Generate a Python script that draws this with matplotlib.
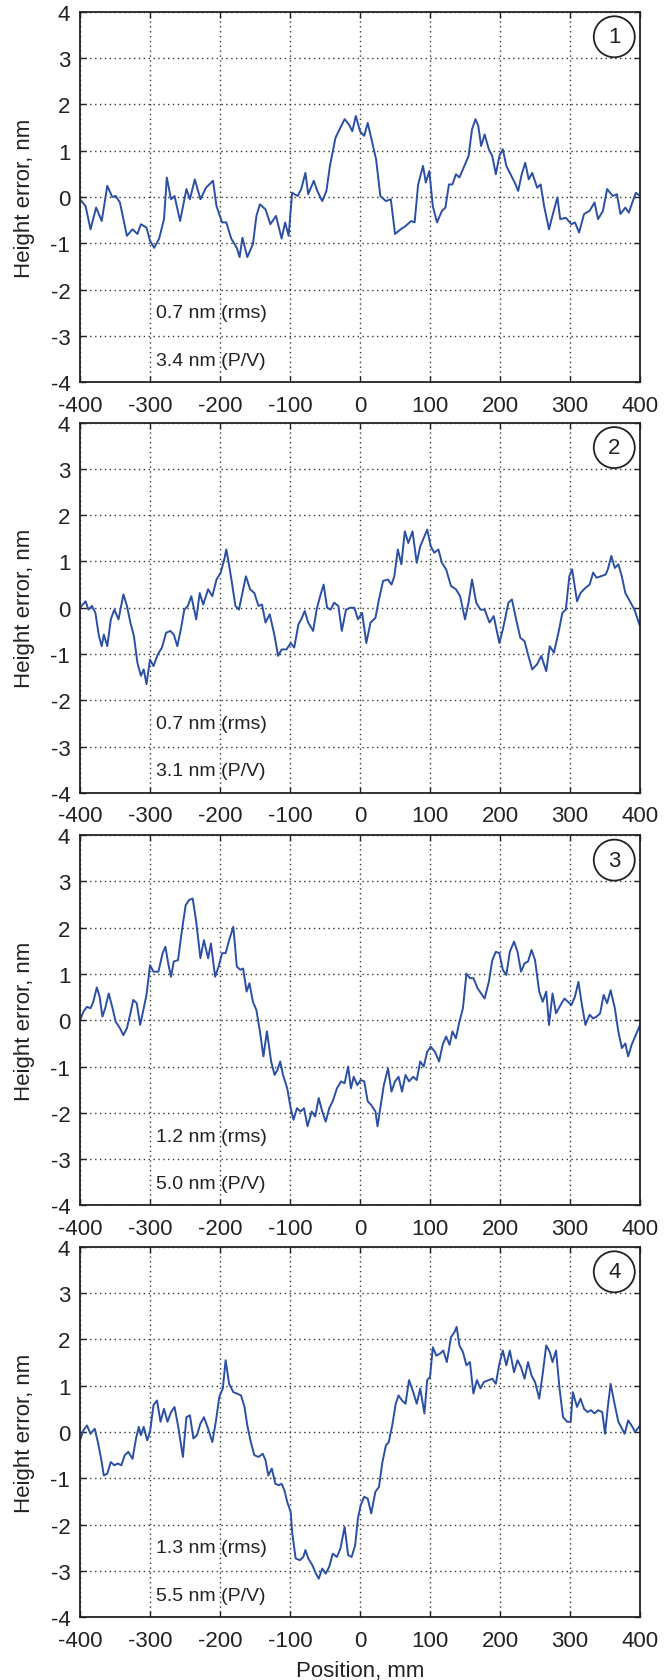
import matplotlib.pyplot as plt

plt.rcParams['font.family'] = ['Liberation Sans', 'DejaVu Sans']
plt.rcParams['axes.unicode_minus'] = False

# panel 1
x1 = [-400, -392, -385, -377, -369, -361, -354, -349, -343, -333,
      -325, -318, -313, -305, -300, -294, -287, -280, -276, -270,
      -265, -257, -248, -243, -236, -228, -220, -210, -205, -197,
      -191, -184, -176, -172, -168, -161, -153, -148, -143, -135,
      -128, -120, -112, -107, -102, -97, -89, -84, -78, -74,
      -66, -61, -54, -48, -43, -35, -27, -22, -16, -11,
      -6, 0, 6, 11, 17, 23, 29, 37, 44, 50,
      58, 65, 73, 78, 83, 90, 94, 99, 104, 110,
      117, 122, 127, 132, 137, 142, 150, 155, 160, 165,
      169, 173, 178, 184, 189, 194, 199, 204, 209, 214,
      221, 226, 231, 236, 241, 246, 253, 258, 263, 270,
      276, 282, 286, 294, 302, 307, 313, 320, 328, 335,
      340, 347, 353, 361, 367, 372, 379, 384, 389, 394,
      400]
y1 = [-0.05, -0.2, -0.7, -0.23, -0.52, 0.24, 0, 0.02, -0.12, -0.84,
      -0.7, -0.8, -0.59, -0.66, -0.95, -1.1, -0.9, -0.48, 0.42, -0.05,
      0.02, -0.52, 0.17, -0.05, 0.38, -0.05, 0.2, 0.35, -0.2, -0.55,
      -0.55, -0.9, -1.1, -1.3, -0.88, -1.3, -1.02, -0.41, -0.16, -0.27,
      -0.59, -0.41, -0.9, -0.55, -0.84, 0.09, 0.02, 0.17, 0.52, 0.06,
      0.35, 0.13, -0.09, 0.13, 0.67, 1.28, 1.53, 1.68, 1.57, 1.42,
      1.75, 1.42, 1.32, 1.6, 1.21, 0.81, 0.02, -0.09, -0.05, -0.8,
      -0.7, -0.63, -0.52, -0.55, 0.27, 0.67, 0.31, 0.56, -0.2, -0.55,
      -0.3, -0.23, 0.27, 0.27, 0.49, 0.42, 0.7, 0.88, 1.46, 1.68,
      1.53, 1.1, 1.35, 1.03, 0.88, 0.49, 0.88, 1.03, 0.67, 0.52,
      0.31, 0.13, 0.49, 0.74, 0.38, 0.52, 0.2, 0.27, -0.2, -0.7,
      -0.34, -0.01, -0.48, -0.45, -0.59, -0.55, -0.77, -0.37, -0.3, -0.12,
      -0.48, -0.3, 0.17, 0.02, 0.06, -0.37, -0.23, -0.34, -0.12, 0.09,
      0.02]

# panel 2
x2 = [-400, -396, -392, -388, -383, -378, -373, -369, -366, -361,
      -356, -351, -345, -338, -333, -328, -323, -318, -313, -309,
      -305, -300, -295, -289, -283, -277, -271, -266, -261, -256,
      -251, -246, -241, -234, -229, -224, -217, -211, -205, -199,
      -194, -191, -188, -183, -178, -173, -169, -163, -157, -151,
      -145, -140, -135, -129, -122, -117, -112, -105, -99, -94,
      -88, -84, -79, -74, -67, -62, -57, -52, -47, -42,
      -37, -31, -26, -20, -14, -8, -3, 3, 9, 15,
      22, 27, 33, 40, 45, 49, 54, 59, 64, 69,
      75, 81, 86, 90, 96, 101, 106, 112, 117, 123,
      130, 137, 143, 150, 155, 160, 166, 172, 178, 185,
      191, 199, 204, 212, 217, 222, 229, 235, 240, 246,
      253, 259, 266, 271, 277, 284, 289, 294, 299, 303,
      310, 315, 322, 328, 333, 338, 344, 351, 354, 359,
      364, 369, 374, 379, 384, 392, 400]
y2 = [0, 0.07, 0.14, -0.04, 0.04, -0.11, -0.61, -0.83, -0.58, -0.83,
      -0.25, -0.04, -0.25, 0.29, 0.04, -0.32, -0.61, -1.19, -1.47, -1.33,
      -1.65, -1.12, -1.26, -1.01, -0.86, -0.54, -0.5, -0.58, -0.83, -0.47,
      -0.04, 0.04, 0.25, -0.25, 0.32, 0.07, 0.4, 0.25, 0.61, 0.76,
      1.04, 1.26, 1.01, 0.54, 0.04, -0.04, 0.25, 0.68, 0.4, 0.32,
      0.04, 0.07, -0.32, -0.14, -0.61, -1.04, -0.9, -0.9, -0.76, -0.86,
      -0.36, -0.25, -0.07, -0.32, -0.5, -0.04, 0.25, 0.5, 0, -0.04,
      0.11, 0.04, -0.5, -0.04, 0, 0, -0.25, -0.11, -0.76, -0.32,
      -0.22, 0.18, 0.58, 0.61, 0.5, 0.68, 1.26, 0.94, 1.65, 1.4,
      1.65, 0.97, 1.33, 1.47, 1.69, 1.33, 1.19, 1.26, 0.97, 0.83,
      0.47, 0.4, 0.25, -0.25, 0.11, 0.61, 0.11, -0.04, -0.04, -0.32,
      -0.18, -0.76, -0.47, 0.11, 0.18, -0.18, -0.65, -0.72, -1.01, -1.33,
      -1.22, -1.04, -1.37, -0.83, -0.97, -0.5, -0.11, -0.04, 0.68, 0.83,
      0.14, 0.32, 0.43, 0.5, 0.76, 0.65, 0.68, 0.72, 0.83, 1.12,
      0.86, 0.94, 0.68, 0.32, 0.18, -0.04, -0.4]

# panel 3
x3 = [-400, -395, -390, -385, -381, -376, -372, -368, -364, -359,
      -354, -349, -343, -338, -333, -328, -324, -319, -314, -310,
      -305, -300, -295, -288, -282, -278, -274, -270, -266, -260,
      -254, -249, -244, -239, -234, -228, -223, -217, -213, -207,
      -202, -197, -192, -187, -181, -176, -171, -167, -162, -158,
      -153, -148, -143, -138, -133, -127, -122, -118, -114, -110,
      -104, -99, -95, -90, -85, -80, -75, -69, -64, -59,
      -54, -49, -44, -39, -33, -27, -22, -17, -13, -9,
      -4, 1, 6, 11, 16, 22, 25, 29, 34, 40,
      45, 50, 55, 60, 65, 70, 76, 81, 86, 91,
      96, 101, 107, 113, 118, 123, 128, 132, 137, 142,
      147, 152, 157, 162, 168, 173, 178, 184, 189, 194,
      199, 204, 209, 214, 220, 225, 230, 235, 240, 245,
      250, 256, 261, 266, 270, 275, 280, 285, 292, 297,
      302, 307, 312, 317, 322, 328, 333, 338, 343, 348,
      353, 358, 364, 369, 374, 379, 383, 388, 393, 400]
y3 = [0, 0.19, 0.29, 0.26, 0.4, 0.71, 0.51, 0.08, 0.26, 0.58,
      0.29, -0.03, -0.17, -0.32, -0.17, 0.15, 0.44, 0.37, -0.1, 0.19,
      0.55, 1.19, 1.05, 1.05, 1.45, 1.59, 1.23, 0.94, 1.27, 1.3,
      1.99, 2.49, 2.6, 2.63, 2.13, 1.34, 1.73, 1.34, 1.66, 0.94,
      1.16, 1.45, 1.45, 1.73, 2.02, 1.16, 1.09, 1.12, 0.62, 0.8,
      0.4, 0.22, -0.24, -0.78, -0.24, -0.89, -1.18, -1.07, -0.89, -1.18,
      -1.47, -1.9, -2.15, -1.9, -1.97, -1.9, -2.29, -1.97, -2.08, -1.68,
      -1.97, -2.19, -1.9, -1.75, -1.47, -1.32, -1.36, -1.0, -1.47, -1.22,
      -1.4, -1.29, -1.32, -1.75, -1.83, -1.97, -2.29, -1.9, -1.4, -1.04,
      -1.54, -1.32, -1.22, -1.54, -1.18, -1.32, -1.22, -1.29, -0.89, -1.0,
      -0.68, -0.57, -0.68, -0.89, -0.53, -0.35, -0.53, -0.24, -0.39, -0.03,
      0.26, 1.01, 0.91, 0.91, 0.69, 0.58, 0.47, 0.83, 1.3, 1.48,
      1.45, 1.09, 0.98, 1.48, 1.7, 1.48, 1.05, 1.23, 1.27, 1.52,
      1.3, 0.62, 0.4, 0.62, -0.1, 0.58, 0.15, 0.29, 0.47, 0.4,
      0.33, 0.51, 0.83, 0.33, -0.1, 0.12, 0.04, 0.08, 0.15, 0.55,
      0.37, 0.65, 0.26, -0.24, -0.6, -0.5, -0.78, -0.53, -0.35, -0.1]

# panel 4
x4 = [-400, -395, -390, -385, -379, -374, -369, -366, -361, -356,
      -351, -346, -341, -336, -331, -325, -320, -316, -313, -309,
      -304, -300, -295, -290, -285, -280, -275, -270, -265, -260,
      -253, -248, -243, -238, -233, -228, -223, -217, -211, -206,
      -201, -196, -192, -187, -181, -176, -170, -165, -161, -156,
      -151, -145, -139, -135, -131, -126, -121, -116, -112, -108,
      -104, -99, -97, -92, -86, -81, -78, -74, -68, -63,
      -59, -54, -49, -44, -39, -33, -28, -22, -17, -12,
      -7, -3, 1, 6, 11, 16, 22, 27, 32, 37,
      41, 46, 51, 55, 60, 65, 70, 76, 81, 86,
      92, 96, 100, 104, 109, 114, 119, 124, 130, 135,
      138, 142, 147, 152, 157, 162, 167, 172, 177, 184,
      189, 194, 199, 204, 209, 214, 220, 225, 230, 235,
      240, 245, 250, 256, 261, 266, 271, 275, 280, 285,
      290, 296, 301, 304, 310, 315, 320, 325, 330, 335,
      340, 346, 350, 354, 358, 364, 369, 373, 378, 383,
      388, 393, 400]
y4 = [-0.18, 0.04, 0.14, -0.04, 0.07, -0.25, -0.65, -0.94, -0.9, -0.65,
      -0.72, -0.68, -0.72, -0.5, -0.43, -0.58, -0.14, 0.11, -0.07, 0.11,
      -0.18, 0, 0.58, 0.68, 0.22, 0.5, 0.22, 0.43, 0.54, 0.14,
      -0.54, 0.32, 0.36, -0.14, -0.07, 0.18, 0.32, 0.07, -0.22, 0.22,
      0.76, 0.94, 1.55, 1.04, 0.86, 0.83, 0.79, 0.54, 0.14, -0.22,
      -0.5, -0.54, -0.47, -0.61, -0.94, -0.79, -1.12, -1.15, -1.12, -1.26,
      -1.51, -1.73, -2.16, -2.73, -2.77, -2.7, -2.55, -2.73, -2.88, -3.06,
      -3.17, -2.95, -3.06, -2.91, -2.63, -2.7, -2.52, -2.05, -2.66, -2.7,
      -2.45, -1.87, -1.58, -1.4, -1.44, -1.76, -1.29, -1.19, -0.65, -0.29,
      -0.22, 0.14, 0.61, 0.79, 0.68, 0.61, 1.12, 0.86, 0.61, 0.94,
      0.4, 1.12, 1.19, 1.83, 1.65, 1.69, 1.76, 1.51, 2.05, 2.16,
      2.27, 1.87, 1.73, 1.44, 1.51, 0.83, 1.12, 0.94, 1.08, 1.12,
      1.15, 1.04, 1.47, 1.76, 1.44, 1.76, 1.29, 1.55, 1.4, 1.15,
      1.51, 1.22, 1.08, 0.72, 1.26, 1.87, 1.73, 1.51, 1.76, 0.94,
      0.32, 0.22, 0.22, 0.86, 0.54, 0.72, 0.5, 0.43, 0.47, 0.4,
      0.47, 0.43, -0.04, 0.54, 1.04, 0.58, 0.22, 0.11, -0.04, 0.25,
      0.14, 0, 0.14]

rms_labels = ["0.7 nm (rms)", "0.7 nm (rms)", "1.2 nm (rms)", "1.3 nm (rms)"]
pv_labels = ["3.4 nm (P/V)", "3.1 nm (P/V)", "5.0 nm (P/V)", "5.5 nm (P/V)"]
panel_ids = ["1", "2", "3", "4"]
xticks = [-400, -300, -200, -100, 0, 100, 200, 300, 400]
yticks = [-4, -3, -2, -1, 0, 1, 2, 3, 4]

LINE_COLOR = '#2b4fa3'
TEXT_COLOR = '#222222'
bottoms = [0.7721, 0.5277, 0.2823, 0.0374]


def main():
    fig = plt.figure(figsize=(6.64, 16.81), dpi=100)
    series = [(x1, y1), (x2, y2), (x3, y3), (x4, y4)]

    for i, (xs, ys) in enumerate(series):
        ax = fig.add_axes([0.1205, bottoms[i], 0.8434, 0.2203])
        ax.plot(xs, ys, color=LINE_COLOR, lw=1.4)
        ax.set_xlim(-400, 400)
        ax.set_ylim(-4, 4)
        ax.set_xticks(xticks)
        ax.set_yticks(yticks)
        ax.grid(True, color='#333333', linestyle=(0, (1, 2.5)), linewidth=1.0)
        ax.tick_params(direction='in', length=4, width=1, top=True, right=True,
                       labelsize=16, colors=TEXT_COLOR)
        ax.tick_params(axis='x', pad=9)
        ax.tick_params(axis='y', pad=7)
        for s in ax.spines.values():
            s.set_linewidth(1.3)
            s.set_color(TEXT_COLOR)

        ax.set_ylabel('Height error, nm', fontsize=16, color=TEXT_COLOR)
        ax.yaxis.set_label_coords(-0.08, 0.5)

        ax.text(-291, -2.6, rms_labels[i], fontsize=14, va='baseline', color=TEXT_COLOR)
        ax.text(-291, -3.62, pv_labels[i], fontsize=14, va='baseline', color=TEXT_COLOR)

        # circled panel number
        ax.text(0.954, 0.9325, panel_ids[i], transform=ax.transAxes, ha='center', va='center',
                fontsize=16, color=TEXT_COLOR,
                bbox=dict(boxstyle='circle,pad=0.45', fc='white', ec=TEXT_COLOR, lw=1.3))

    ax.set_xlabel('Position, mm', fontsize=16, color=TEXT_COLOR)
    ax.xaxis.set_label_coords(0.5, -0.115)

    plt.savefig("out.png", dpi=100)


if __name__ == '__main__':
    main()
